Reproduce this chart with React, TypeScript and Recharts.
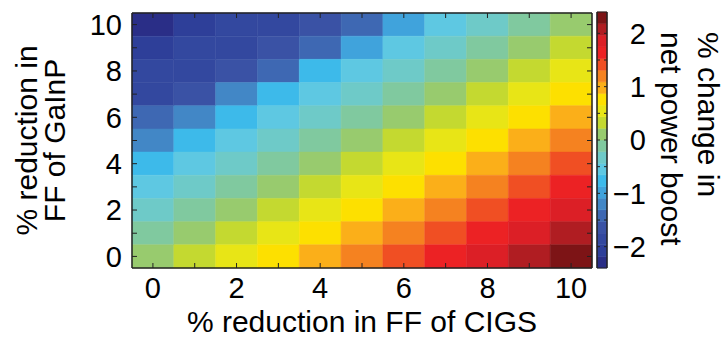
import React from 'react';
import { ComposedChart, XAxis, YAxis, ReferenceArea, Scatter } from 'recharts';

// % reduction in FF of CIGS (columns) and GaInP (rows)
const cigsReduction = [0, 1, 2, 3, 4, 5, 6, 7, 8, 9, 10];
const gainpReduction = [10, 9, 8, 7, 6, 5, 4, 3, 2, 1, 0]; // top row first

// % change in net power boost, one array per GaInP row (top to bottom)
const row10 = [-2.25, -2.04, -1.83, -1.78, -1.6, -1.37, -0.95, -0.57, -0.31, -0.09, 0.11];
const row9 = [-2.05, -1.84, -1.79, -1.62, -1.4, -0.98, -0.53, -0.32, -0.11, 0.1, 0.33];
const row8 = [-1.86, -1.8, -1.63, -1.41, -0.76, -0.54, -0.33, -0.12, 0.09, 0.31, 0.52];
const row7 = [-1.82, -1.65, -1.19, -0.77, -0.55, -0.34, -0.13, 0.08, 0.3, 0.51, 0.74];
const row6 = [-1.42, -1.2, -0.78, -0.56, -0.35, -0.14, 0.07, 0.29, 0.5, 0.73, 0.95];
const row5 = [-1.21, -0.79, -0.57, -0.36, -0.15, 0.06, 0.28, 0.49, 0.72, 0.94, 1.16];
const row4 = [-0.8, -0.58, -0.37, -0.16, 0.05, 0.27, 0.48, 0.71, 0.93, 1.15, 1.37];
const row3 = [-0.59, -0.38, -0.17, 0.04, 0.26, 0.47, 0.7, 0.92, 1.14, 1.36, 1.58];
const row2 = [-0.39, -0.18, 0.03, 0.25, 0.46, 0.69, 0.91, 1.13, 1.35, 1.57, 1.8];
const row1 = [-0.19, 0.02, 0.24, 0.45, 0.68, 0.9, 1.12, 1.34, 1.56, 1.79, 2.01];
const row0 = [0.01, 0.23, 0.45, 0.67, 0.89, 1.11, 1.33, 1.55, 1.78, 2.0, 2.26];
const boostRows = [row10, row9, row8, row7, row6, row5, row4, row3, row2, row1, row0];

const axisTicks = [0, 1, 2, 3, 4, 5, 6, 7, 8, 9, 10];
const colorbarTicks = [-2, -1.5, -1, -0.5, 0, 0.5, 1, 1.5, 2];

// jet-like colour map, low to high
const palette = [
  '#2a2e87', '#2e3f99', '#33489f', '#3a52a5', '#3e68b3', '#4287c6', '#40a3dc', '#3dbaea',
  '#5ec8e2', '#6ecac8', '#80c99f', '#98cb6e', '#c4d930', '#e8e516', '#fde000', '#fbaf19',
  '#f58220', '#f04f23', '#ec2224', '#dc1f26', '#b01d22', '#7d1416',
];
const colorMin = -2.4;
const colorMax = 2.4;
const colorStep = (colorMax - colorMin) / palette.length;

const colorFor = (v: number) => {
  const i = Math.floor((v - colorMin) / colorStep);
  return palette[Math.max(0, Math.min(palette.length - 1, i))];
};

const cells = gainpReduction.flatMap((y, ri) =>
  cigsReduction.map((x, ci) => ({ x, y, value: boostRows[ri][ci] }))
);

const bands = palette.map((color, i) => ({
  from: colorMin + i * colorStep,
  to: colorMin + (i + 1) * colorStep,
  mid: colorMin + (i + 0.5) * colorStep,
  pos: 0.5,
  color,
}));

const FONT = '"Liberation Sans", Arial, Helvetica, sans-serif';
const AXIS = '#222';
const evenOnly = (v: number) => (v % 2 === 0 ? String(v) : '');
const intOnly = (v: number) => (Number.isInteger(v) ? String(v).replace('-', '\u2212') : '');
const noShape = () => <g />;

const LeftTitle = (props: any) => {
  const vb = props.viewBox;
  const cy = vb.y + vb.height / 2;
  return (
    <g>
      <text x={37} y={cy} transform={`rotate(-90, 37, ${cy})`} textAnchor="middle" fontSize={30} fill="#000">
        % reduction in
      </text>
      <text x={65} y={cy} transform={`rotate(-90, 65, ${cy})`} textAnchor="middle" fontSize={30} fill="#000">
        FF of GaInP
      </text>
    </g>
  );
};

const BottomTitle = (props: any) => {
  const vb = props.viewBox;
  const cx = vb.x + vb.width / 2;
  return (
    <text x={cx} y={332} textAnchor="middle" fontSize={30} fill="#000">
      % reduction in FF of CIGS
    </text>
  );
};

const ColorbarTitle = () => (
  <g>
    <text x={138} y={32} transform="rotate(90, 138, 32)" textAnchor="start" fontSize={30} fill="#000">
      % change in
    </text>
    <text x={101} y={32} transform="rotate(90, 101, 32)" textAnchor="start" fontSize={30} fill="#000">
      net power boost
    </text>
  </g>
);

export default function App() {
  return (
    <div style={{ position: 'absolute', left: 0, top: 0, width: 724, height: 337, background: '#fff', fontFamily: FONT }}>
      <div style={{ position: 'absolute', left: 0, top: 0 }}>
        <ComposedChart width={724} height={337} margin={{ top: 12, right: 131, left: 0, bottom: 0 }}>
          {cells.map((c) => (
            <ReferenceArea
              key={`${c.x}-${c.y}`}
              xAxisId="bottom"
              yAxisId="left"
              x1={c.x - 0.5}
              x2={c.x + 0.5}
              y1={c.y - 0.5}
              y2={c.y + 0.5}
              fill={colorFor(c.value)}
              fillOpacity={1}
              stroke={colorFor(c.value)}
              strokeWidth={0.5}
              ifOverflow="visible"
              zIndex={-10}
            />
          ))}
          {/* plot frame */}
          <ReferenceArea
            xAxisId="bottom"
            yAxisId="left"
            x1={-0.5}
            x2={10.5}
            y1={-0.5}
            y2={10.5}
            fill="none"
            fillOpacity={0}
            stroke={AXIS}
            strokeWidth={1}
            ifOverflow="visible"
          />
          <Scatter data={cells} dataKey="y" xAxisId="bottom" yAxisId="left" shape={noShape} isAnimationActive={false} />
          <Scatter data={cells} dataKey="y" xAxisId="top" yAxisId="right" shape={noShape} isAnimationActive={false} />
          <XAxis
            xAxisId="bottom"
            dataKey="x"
            type="number"
            domain={[-0.5, 10.5]}
            ticks={axisTicks}
            interval={0}
            height={69}
            tickSize={-5}
            tickMargin={14}
            tickFormatter={evenOnly}
            stroke={AXIS}
            tick={{ fill: '#000', fontSize: 29 }}
            label={BottomTitle}
          />
          <XAxis
            xAxisId="top"
            dataKey="x"
            orientation="top"
            type="number"
            domain={[-0.5, 10.5]}
            ticks={axisTicks}
            interval={0}
            height={1}
            tickSize={-5}
            tickFormatter={() => ''}
            stroke={AXIS}
          />
          <YAxis
            yAxisId="left"
            dataKey="y"
            type="number"
            domain={[-0.5, 10.5]}
            ticks={axisTicks}
            interval={0}
            width={132}
            tickSize={-5}
            tickMargin={15}
            tickFormatter={evenOnly}
            stroke={AXIS}
            tick={{ fill: '#000', fontSize: 29 }}
            label={LeftTitle}
          />
          <YAxis
            yAxisId="right"
            dataKey="y"
            orientation="right"
            type="number"
            domain={[-0.5, 10.5]}
            ticks={axisTicks}
            interval={0}
            width={1}
            tickSize={-5}
            tickFormatter={() => ''}
            stroke={AXIS}
          />
        </ComposedChart>
      </div>
      <div style={{ position: 'absolute', left: 560, top: 0 }}>
        <ComposedChart width={164} height={337} margin={{ top: 12, right: 116, left: 36, bottom: 69 }}>
          {bands.map((b) => (
            <ReferenceArea
              key={b.color}
              xAxisId="cb"
              yAxisId="cbRight"
              x1={0}
              x2={1}
              y1={b.from}
              y2={b.to}
              fill={b.color}
              fillOpacity={1}
              stroke={b.color}
              strokeWidth={0.5}
              ifOverflow="visible"
              zIndex={-10}
            />
          ))}
          <ReferenceArea
            xAxisId="cb"
            yAxisId="cbRight"
            x1={0}
            x2={1}
            y1={colorMin}
            y2={colorMax}
            fill="none"
            fillOpacity={0}
            stroke={AXIS}
            ifOverflow="visible"
          />
          <Scatter data={bands} dataKey="mid" xAxisId="cb" yAxisId="cbRight" shape={noShape} isAnimationActive={false} />
          <Scatter data={bands} dataKey="mid" xAxisId="cb" yAxisId="cbLeft" shape={noShape} isAnimationActive={false} />
          <XAxis xAxisId="cb" dataKey="pos" type="number" domain={[0, 1]} hide />
          <YAxis
            yAxisId="cbLeft"
            dataKey="mid"
            type="number"
            domain={[colorMin, colorMax]}
            ticks={colorbarTicks}
            interval={0}
            width={1}
            tickSize={-3}
            tickFormatter={() => ''}
            stroke={AXIS}
          />
          <YAxis
            yAxisId="cbRight"
            dataKey="mid"
            orientation="right"
            type="number"
            domain={[colorMin, colorMax]}
            ticks={colorbarTicks}
            interval={0}
            width={1}
            tickSize={-3}
            tickMargin={42}
            tickFormatter={intOnly}
            stroke={AXIS}
            tick={{ fill: '#000', fontSize: 29, textAnchor: 'end' }}
            label={ColorbarTitle}
          />
        </ComposedChart>
      </div>
    </div>
  );
}
